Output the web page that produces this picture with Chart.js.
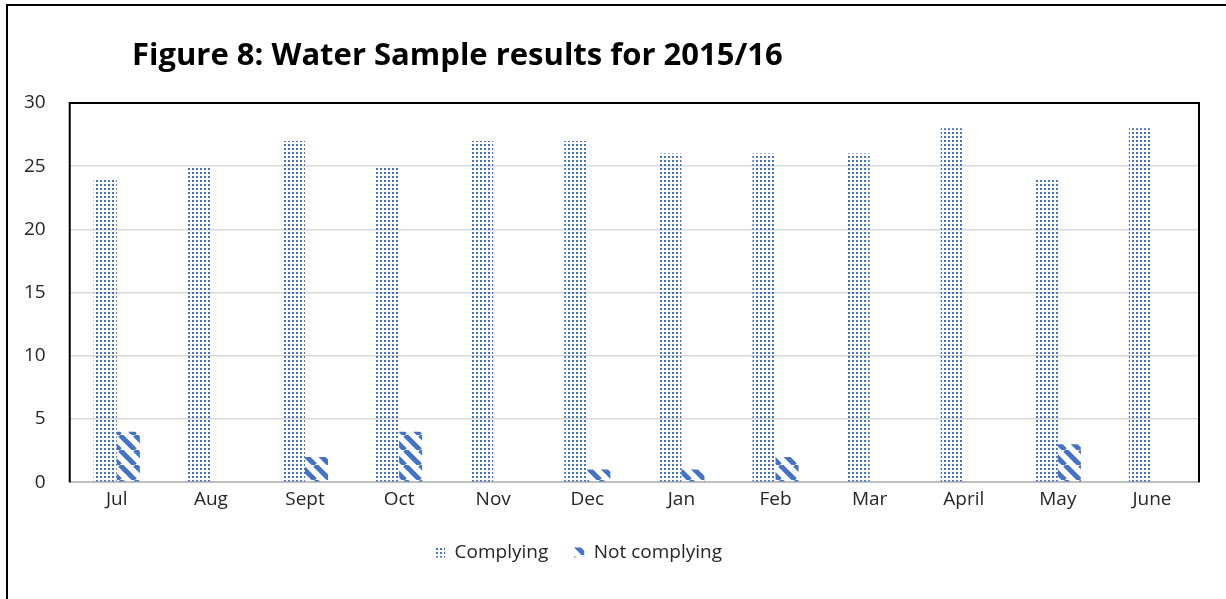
<!DOCTYPE html>
<html>
<head>
<meta charset="utf-8">
<script src="https://cdn.jsdelivr.net/npm/chart.js@4.4.1/dist/chart.umd.min.js"></script>
<style>
  html, body { margin: 0; padding: 0; background: #fff; }
  #wrap { position: relative; width: 1226px; height: 599px; overflow: hidden; }
  #frame { position: absolute; left: 6px; top: 4px; width: 1300px; height: 700px; border: 2px solid #000; box-sizing: border-box; }
  #title { position: absolute; left: 132px; top: 32px; font: bold 31px "Open Sans", sans-serif; color: #000; white-space: nowrap; }
  #chart { position: absolute; left: 0; top: 0; }
</style>
</head>
<body>
<div id="wrap">
  <div id="frame"></div>
  <canvas id="chart" width="1226" height="599"></canvas>
  <div id="title">Figure 8: Water Sample results for 2015/16</div>
</div>
<script>
// chart data
const months = ['Jul', 'Aug', 'Sept', 'Oct', 'Nov', 'Dec', 'Jan', 'Feb', 'Mar', 'April', 'May', 'June']
const complying = [24, 25, 27, 25, 27, 27, 26, 26, 26, 28, 24, 28]
const notComplying = [4, 0, 2, 4, 0, 1, 1, 2, 0, 0, 3, 0]
const yTicks = [0, 5, 10, 15, 20, 25, 30]

const blue = '#4472C4'

// dotted fill used by Excel for "Complying"
function dotPattern() {
  let c = document.createElement('canvas')
  c.width = 4; c.height = 4
  let g = c.getContext('2d')
  g.fillStyle = blue
  g.fillRect(0, 0, 2, 2)
  return g.createPattern(c, 'repeat')
}

// wide downward diagonal for "Not complying"
function stripePattern() {
  let s = 15
  let c = document.createElement('canvas')
  c.width = s; c.height = s
  let g = c.getContext('2d')
  g.strokeStyle = blue
  g.lineWidth = 5
  g.beginPath()
  for (let k = -1; k <= 1; k++) {
    g.moveTo(k * s, 0)
    g.lineTo(k * s + s, s)
  }
  g.stroke()
  return g.createPattern(c, 'repeat')
}

const font = '"Open Sans", sans-serif'

// black frame round the plot area (left, top, right)
const plotFrame = {
  id: 'plotFrame',
  afterDraw(chart) {
    const { ctx, chartArea: a } = chart
    ctx.save()
    ctx.strokeStyle = '#000'
    ctx.lineWidth = 2
    ctx.beginPath()
    ctx.moveTo(a.left, a.bottom)
    ctx.lineTo(a.left, a.top)
    ctx.lineTo(a.right, a.top)
    ctx.lineTo(a.right, a.bottom)
    ctx.stroke()
    ctx.restore()
  }
}

// Excel centres the legend a bit left of the plot centre
const legendShift = {
  id: 'legendShift',
  afterLayout(chart) {
    chart.legend.left -= 21
    chart.legend.right -= 21
  }
}

const chart = new Chart(document.getElementById('chart'), {
  type: 'bar',
  data: {
    labels: months,
    datasets: [{
      label: 'Complying',
      data: complying,
      backgroundColor: dotPattern(),
      borderWidth: 0
    }, {
      label: 'Not complying',
      data: notComplying,
      backgroundColor: stripePattern(),
      borderWidth: 0
    }]
  },
  options: {
    responsive: false,
    animation: false,
    layout: { padding: { left: 0, right: 27, top: 103, bottom: 27 } },
    datasets: {
      bar: { categoryPercentage: 0.49, barPercentage: 1 }
    },
    scales: {
      x: {
        grid: { display: false, drawTicks: false },
        border: { color: '#bfbfbf', width: 2 },
        ticks: { color: '#262626', font: { family: font, size: 19 }, padding: 6, maxRotation: 0 }
      },
      y: {
        min: 0,
        max: 30,
        afterBuildTicks(axis) { axis.ticks = yTicks.map(v => ({ value: v })) },
        grid: { color: '#d9d9d9', lineWidth: 1.5, drawTicks: false },
        border: { display: false },
        ticks: { color: '#262626', font: { family: font, size: 19 }, padding: 24 }
      }
    },
    plugins: {
      tooltip: { enabled: false },
      legend: {
        position: 'bottom',
        labels: {
          boxWidth: 10,
          boxHeight: 10,
          padding: 26,
          color: '#262626',
          font: { family: font, size: 19 }
        }
      }
    }
  },
  plugins: [plotFrame, legendShift]
})
</script>
</body>
</html>
